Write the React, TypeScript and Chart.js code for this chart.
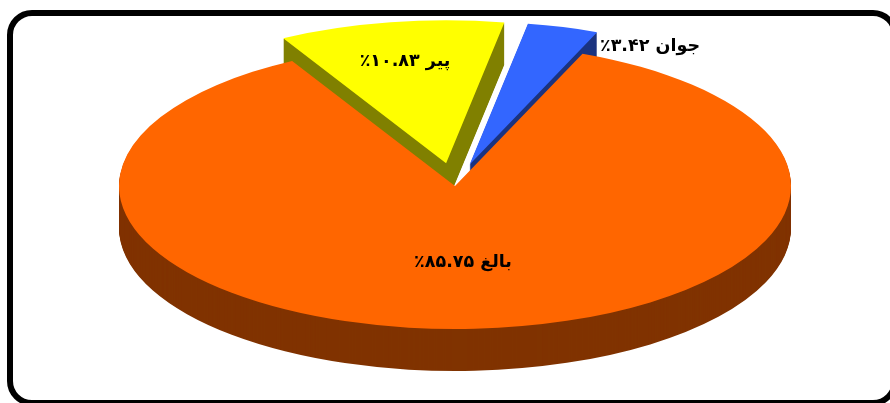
import React, { useEffect, useRef } from "react";
import { Chart, registerables } from "chart.js";

Chart.register(...registerables);

const categories = ["پیر", "جوان", "بالغ"];
const values = [10.83, 3.42, 85.75];
const valueLabels = ["۱۰.۸۳", "۳.۴۲", "۸۵.۷۵"];
const topColors = ["#FFFF00", "#3366FF", "#FF6600"];
const wallColors = ["#808000", "#1A3380", "#803300"];
const sliceExplode = [24.1, 23.5, 0];

const CENTER_X = 455;
const CENTER_Y = 186;
const RADIUS_X = 336;
const RADIUS_Y = 143;
const DEPTH = 42;
const BASE_RADIUS = 150;
const labelAnchors = [
  { x: 405, y: 61 },
  { x: 650, y: 46 },
  { x: 463, y: 262 },
];

const piePlugin = {
  id: "tiltedPie",
  beforeDraw(chart: any) {
    const ctx = chart.ctx;
    ctx.save();
    ctx.fillStyle = "#FFFFFF";
    ctx.fillRect(0, 0, chart.width, chart.height);
    ctx.strokeStyle = "#000000";
    ctx.lineWidth = 6;
    ctx.beginPath();
    ctx.roundRect(10, 13, 885, 390, 22);
    ctx.stroke();
    ctx.restore();
  },
  beforeDatasetsDraw(chart: any) {
    const ctx = chart.ctx;
    const arcs = chart.getDatasetMeta(0).data;
    arcs.forEach((arc: any, i: number) => {
      const sx = RADIUS_X / arc.outerRadius;
      const sy = RADIUS_Y / arc.outerRadius;
      const mid = (arc.startAngle + arc.endAngle) / 2;
      const original = arc.options;
      const paint = (dy: number, color: string) => {
        arc.options = { ...original, backgroundColor: color, borderWidth: 0 };
        ctx.save();
        ctx.translate(CENTER_X, CENTER_Y + dy);
        ctx.scale(sx, sy);
        ctx.translate(Math.cos(mid) * sliceExplode[i], Math.sin(mid) * sliceExplode[i]);
        ctx.translate(-arc.x, -arc.y);
        arc.draw(ctx);
        ctx.restore();
      };
      for (let d = DEPTH; d >= 1; d--) paint(d, wallColors[i]);
      paint(0, topColors[i]);
      arc.options = original;
    });
    return false;
  },
  afterDraw(chart: any) {
    const ctx = chart.ctx;
    ctx.save();
    ctx.fillStyle = "#000000";
    ctx.font = 'bold 17.5px "DejaVu Sans"';
    ctx.textAlign = "center";
    ctx.textBaseline = "middle";
    ctx.direction = "rtl";
    categories.forEach((name, i) => {
      ctx.fillText(`${name} ${valueLabels[i]}٪`, labelAnchors[i].x, labelAnchors[i].y);
    });
    ctx.restore();
  },
};

export default function App() {
  const ref = useRef<HTMLCanvasElement>(null);
  useEffect(() => {
    const chart = new Chart(ref.current as HTMLCanvasElement, {
      type: "pie",
      data: {
        labels: categories,
        datasets: [
          {
            data: values,
            backgroundColor: topColors,
            borderWidth: 0,
          },
        ],
      },
      options: {
        responsive: false,
        animation: false,
        rotation: -29,
        radius: BASE_RADIUS,
        plugins: { legend: { display: false }, tooltip: { enabled: false } },
      },
      plugins: [piePlugin],
    } as any);
    return () => chart.destroy();
  }, []);
  return (
    <div style={{ position: "absolute", left: 0, top: 0, width: 890, height: 403, overflow: "hidden" }}>
      <canvas ref={ref} width={890} height={403} style={{ display: "block" }} />
    </div>
  );
}
